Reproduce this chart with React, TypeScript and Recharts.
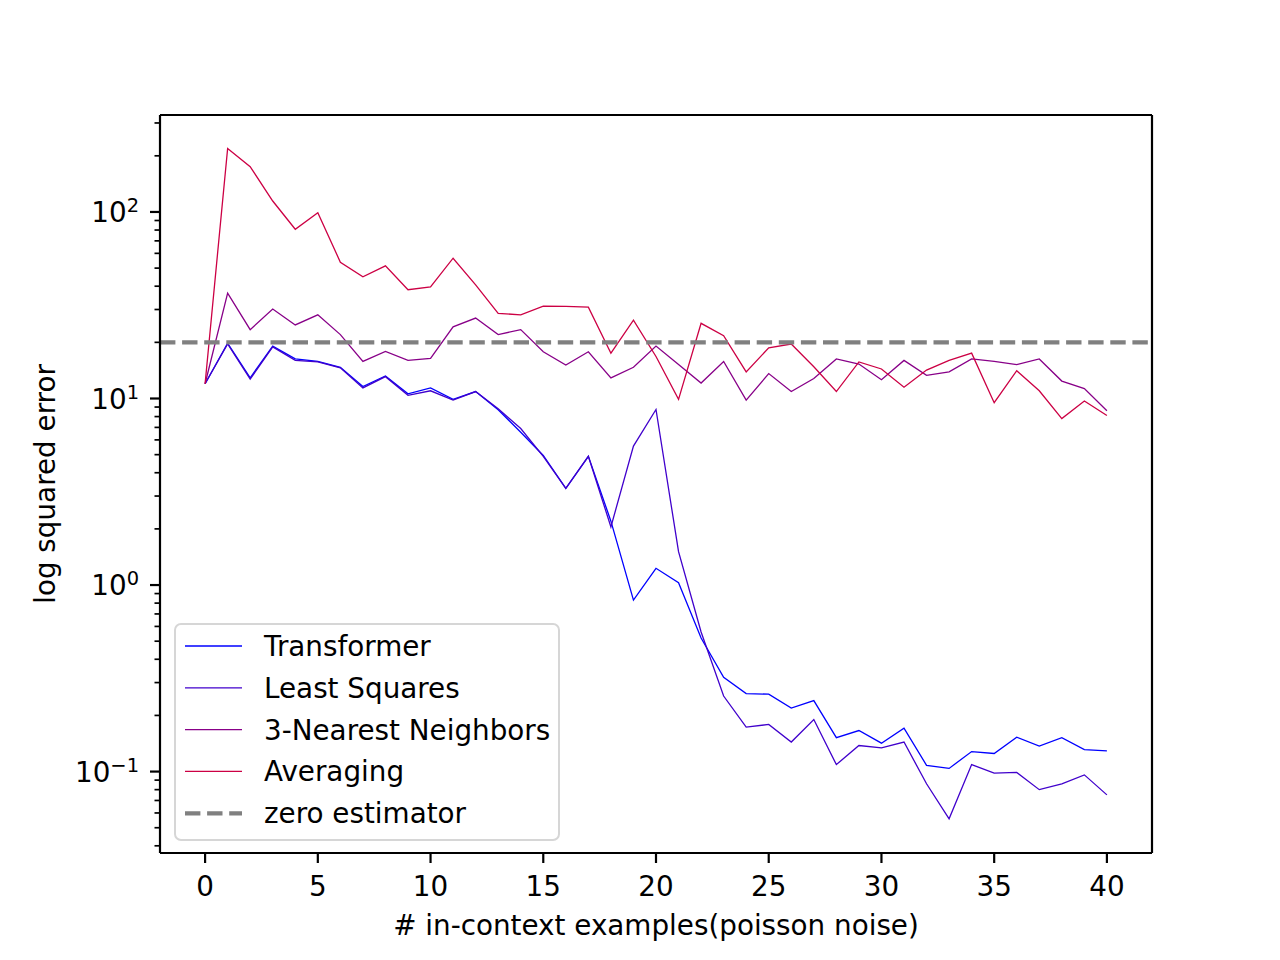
import React from 'react';
import { LineChart, Line, XAxis, YAxis, ReferenceLine, Legend } from 'recharts';

const xValues = [0, 1, 2, 3, 4, 5, 6, 7, 8, 9, 10, 11, 12, 13, 14, 15, 16, 17, 18, 19, 20, 21, 22, 23, 24, 25, 26, 27, 28, 29, 30, 31, 32, 33, 34, 35, 36, 37, 38, 39, 40];

const transformer = [12.0, 19.8, 12.9, 19.1, 16.3, 15.8, 14.7, 11.6, 13.2, 10.6, 11.4, 9.9, 10.9, 8.7, 6.6, 4.95, 3.3, 4.9, 2.2, 0.83, 1.23, 1.03, 0.52, 0.32, 0.262, 0.26, 0.219, 0.24, 0.152, 0.166, 0.142, 0.171, 0.108, 0.104, 0.128, 0.125, 0.153, 0.137, 0.152, 0.131, 0.129];
const leastSquares = [12.0, 19.6, 12.7, 18.9, 16.0, 15.7, 14.6, 11.4, 13.1, 10.4, 11.0, 9.8, 10.9, 8.8, 6.9, 4.9, 3.3, 4.9, 2.05, 5.56, 8.73, 1.51, 0.56, 0.254, 0.173, 0.179, 0.144, 0.19, 0.109, 0.138, 0.134, 0.144, 0.086, 0.0558, 0.109, 0.098, 0.099, 0.08, 0.086, 0.096, 0.075];
const knn = [12.0, 36.7, 23.4, 30.2, 24.8, 28.1, 22.0, 15.8, 17.9, 16.0, 16.4, 24.2, 27.0, 22.0, 23.4, 17.8, 15.1, 17.8, 12.9, 14.7, 19.1, 15.2, 12.1, 15.8, 9.8, 13.6, 10.9, 12.8, 16.3, 15.3, 12.6, 16.0, 13.3, 13.9, 16.3, 15.8, 15.2, 16.3, 12.4, 11.3, 8.6];
const averaging = [12.0, 219, 175, 114.5, 80.8, 99, 53.8, 44.9, 51.4, 38.3, 39.7, 56.5, 40.7, 28.6, 28.1, 31.3, 31.2, 30.9, 17.5, 26.3, 16.8, 9.9, 25.3, 21.7, 13.9, 18.7, 19.6, 14.8, 10.9, 15.7, 14.4, 11.5, 14.2, 16.0, 17.5, 9.5, 14.1, 11.0, 7.8, 9.7, 8.1];

const zeroEstimator = 20;

const xDomain = [-2, 42];
const yDomain = [0.0366, 331];
const xTicks = [0, 5, 10, 15, 20, 25, 30, 35, 40];
const yMajorTicks = [0.1, 1, 10, 100];
const yMajorLabels = ['\u22121', '0', '1', '2'];
const yMinorTicks = [0.04, 0.05, 0.06, 0.07, 0.08, 0.09, 0.2, 0.3, 0.4, 0.5, 0.6, 0.7, 0.8, 0.9, 2, 3, 4, 5, 6, 7, 8, 9, 20, 30, 40, 50, 60, 70, 80, 90, 200, 300];

const seriesNames = ['Transformer', 'Least Squares', '3-Nearest Neighbors', 'Averaging'];
const seriesColors = ['#0000ff', '#4000cc', '#880088', '#cc0044'];
const zeroName = 'zero estimator';
const zeroColor = '#808080';

const FONT = '"DejaVu Sans", sans-serif';
const FS = 27.8;

const data = xValues.map((x, i) => ({
  x,
  transformer: transformer[i],
  leastSquares: leastSquares[i],
  knn: knn[i],
  averaging: averaging[i],
}));

const seriesKeys = ['transformer', 'leastSquares', 'knn', 'averaging'];

const allYTicks = [...yMinorTicks, ...yMajorTicks].sort((a, b) => a - b);

const YTick = (props: any) => {
  const { x, y, payload } = props;
  const v = payload.value;
  const majorIdx = yMajorTicks.findIndex((m) => Math.abs(m - v) / m < 1e-6);
  if (majorIdx < 0) {
    return <line x1={x - 5.5} x2={x} y1={y} y2={y} stroke="#000" strokeWidth={1.7} />;
  }
  return (
    <g>
      <line x1={x - 10} x2={x} y1={y} y2={y} stroke="#000" strokeWidth={2.2} />
      <text x={x - 21} y={y + 10} textAnchor="end" fontFamily={FONT} fontSize={FS} fill="#000">
        10
        <tspan dy={-10} fontSize={FS * 0.7}>{yMajorLabels[majorIdx]}</tspan>
      </text>
    </g>
  );
};

const XTick = (props: any) => {
  const { x, y, payload } = props;
  return (
    <g>
      <line x1={x} x2={x} y1={y} y2={y + 10} stroke="#000" strokeWidth={2.2} />
      <text x={x} y={y + 42.5} textAnchor="middle" fontFamily={FONT} fontSize={FS} fill="#000">
        {payload.value}
      </text>
    </g>
  );
};

const LegendBox = () => (
  <div
    style={{
      width: 386,
      height: 218,
      boxSizing: 'border-box',
      border: '2px solid #d6d6d6',
      borderRadius: 7,
      background: 'rgba(255,255,255,0.8)',
      position: 'relative',
    }}
  >
    <svg width={386} height={218} style={{ position: 'absolute', left: -2, top: -2 }}>
      {seriesNames.map((n, i) => {
        const cy = 23 + i * 41.8;
        return (
          <g key={n}>
            <line x1={11} x2={68} y1={cy} y2={cy} stroke={seriesColors[i]} strokeWidth={1.3} />
            <text x={90} y={cy + 10} fontFamily={FONT} fontSize={FS} fill="#000">
              {n}
            </text>
          </g>
        );
      })}
      <g>
        <line x1={11} x2={68} y1={190.3} y2={190.3} stroke={zeroColor} strokeWidth={4.2} strokeDasharray="15.4 6.7" />
        <text x={90} y={200.3} fontFamily={FONT} fontSize={FS} fill="#000">
          {zeroName}
        </text>
      </g>
    </svg>
  </div>
);

const YLabel = (props: any) => {
  const vb = props.viewBox || { x: 0, y: 115, width: 160, height: 738 };
  const cx = 55;
  const cy = vb.y + vb.height / 2;
  return (
    <text
      x={cx}
      y={cy}
      transform={`rotate(-90, ${cx}, ${cy})`}
      textAnchor="middle"
      fontFamily={FONT}
      fontSize={FS}
      fill="#000"
    >
      log squared error
    </text>
  );
};

const XLabel = (props: any) => {
  const vb = props.viewBox || { x: 160, y: 853, width: 992, height: 107 };
  return (
    <text x={vb.x + vb.width / 2} y={935} textAnchor="middle" fontFamily={FONT} fontSize={FS} fill="#000">
      # in-context examples(poisson noise)
    </text>
  );
};

export default function App() {
  return (
    <div style={{ position: 'absolute', left: 0, top: 0, width: 1280, height: 960, background: '#fff' }}>
      <LineChart
        width={1280}
        height={960}
        data={data}
        margin={{ top: 115, right: 128, left: 0, bottom: 0 }}
        style={{ fontFamily: FONT }}
      >
        <XAxis
          dataKey="x"
          type="number"
          domain={xDomain}
          ticks={xTicks}
          allowDataOverflow
          height={107}
          axisLine={{ stroke: '#000', strokeWidth: 2.2 }}
          tickLine={false}
          tickSize={0}
          tickMargin={0}
          tick={<XTick />}
          interval={0}
          label={<XLabel />}
        />
        <YAxis
          type="number"
          scale="log"
          domain={yDomain}
          allowDataOverflow
          ticks={allYTicks}
          interval={0}
          width={160}
          axisLine={{ stroke: '#000', strokeWidth: 2.2 }}
          tickLine={false}
          tickSize={0}
          tickMargin={0}
          tick={<YTick />}
          label={<YLabel />}
        />
        {seriesKeys.map((k, i) => (
          <Line
            key={k}
            type="linear"
            dataKey={k}
            name={seriesNames[i]}
            stroke={seriesColors[i]}
            strokeWidth={1.3}
            dot={false}
            activeDot={false}
            isAnimationActive={false}
          />
        ))}
        <ReferenceLine
          y={zeroEstimator}
          stroke={zeroColor}
          strokeWidth={4.2}
          strokeDasharray="15.4 6.7"
          ifOverflow="visible"
        />
        <ReferenceLine x={xDomain[1]} stroke="#000" strokeWidth={2.2} ifOverflow="visible" />
        <ReferenceLine y={yDomain[1]} stroke="#000" strokeWidth={2.2} ifOverflow="visible" />
        <Legend
          layout="vertical"
          align="center"
          verticalAlign="middle"
          content={<LegendBox />}
          wrapperStyle={{ left: 174, top: 623, width: 386, height: 218, right: 'auto', bottom: 'auto', margin: 0 }}
        />
      </LineChart>
    </div>
  );
}
